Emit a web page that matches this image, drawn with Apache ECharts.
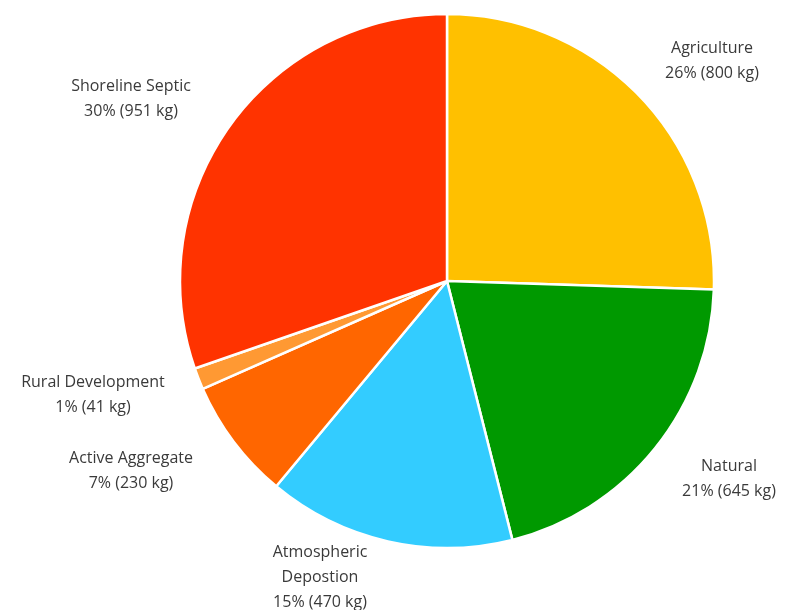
<!DOCTYPE html>
<html>
<head>
<meta charset="utf-8">
<script src="https://cdn.jsdelivr.net/npm/echarts@6/dist/echarts.min.js"></script>
<style>html,body{margin:0;padding:0;background:#fff}#c{width:785px;height:610px}</style>
</head>
<body>
<div id="c"></div>
<script>
const categories = ['Agriculture', 'Natural', 'Atmospheric\nDepostion', 'Active Aggregate', 'Rural Development', 'Shoreline Septic'];
const values = [800, 645, 470, 230, 41, 951];
const percentLabels = ['26%', '21%', '15%', '7%', '1%', '30%'];
const colors = ['#FFC000', '#009900', '#33CCFF', '#FF6600', '#FF9933', '#FF3300'];

// label anchor points (text styling/layout only)
const labelAnchors = [[712, 61], [729, 479], [320, 577], [131, 471], [93, 395], [131, 99]];

const chart = echarts.init(document.getElementById('c'));
chart.setOption({
  animation: false,
  series: [{
    type: 'pie',
    center: [447, 281],
    radius: 267,
    startAngle: 90,
    clockwise: true,
    data: categories.map((n, i) => ({ name: n, value: values[i], itemStyle: { color: colors[i] } })),
    itemStyle: { borderColor: '#fff', borderWidth: 2.5 },
    label: {
      show: true,
      position: 'outside',
      formatter: p => p.name + '\n' + percentLabels[p.dataIndex] + ' (' + p.value + ' kg)',
      color: '#3a3a3a',
      fontFamily: 'Open Sans',
      fontSize: 16,
      lineHeight: 25,
      align: 'center',
      overflow: 'none',
      width: 300
    },
    labelLine: { show: false },
    labelLayout: p => ({
      x: labelAnchors[p.dataIndex][0],
      y: labelAnchors[p.dataIndex][1],
      align: 'center',
      verticalAlign: 'middle'
    }),
    emphasis: { disabled: true }
  }]
});
</script>
</body>
</html>
